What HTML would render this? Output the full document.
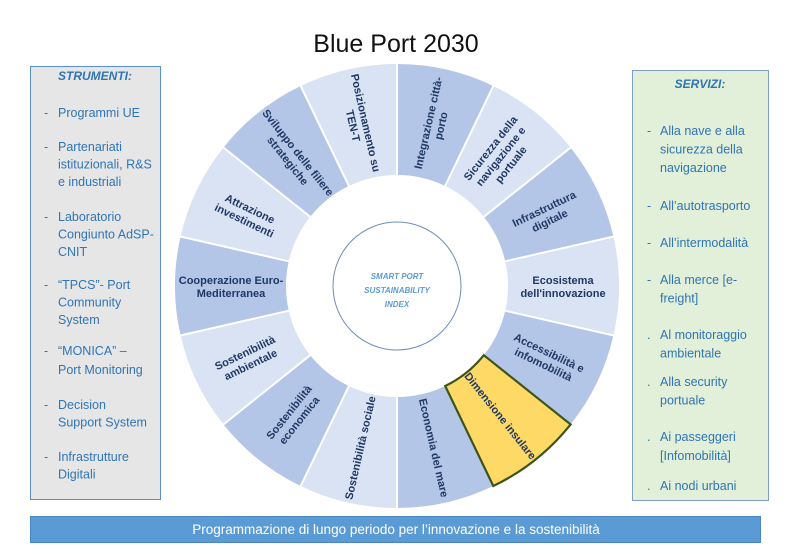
<!DOCTYPE html>
<html><head><meta charset="utf-8"><style>
html,body{margin:0;padding:0;background:#fff;width:790px;height:558px;overflow:hidden}
svg{display:block;font-family:"Liberation Sans",sans-serif}
.w{font-weight:bold;fill:#1f3864;font-size:11px}
.l{fill:#2e75b6;font-size:12.5px}
</style></head><body>
<svg width="790" height="558" viewBox="0 0 790 558">
<text x="396" y="52" font-size="25" text-anchor="middle" fill="#111">Blue Port 2030</text>

<rect x="30.5" y="66.5" width="130" height="433" fill="#e7e6e6" stroke="#5b8fcf"/>
<g class="l">
<text x="95" y="80" text-anchor="middle" font-weight="bold" font-style="italic" font-size="12">STRUMENTI:</text>
<text x="44" y="117">-</text><text x="58" y="117">Programmi UE</text>
<text x="44" y="151">-</text><text x="58" y="151">Partenariati</text><text x="58" y="168.5">istituzionali, R&amp;S</text><text x="58" y="186">e industriali</text>
<text x="44" y="221">-</text><text x="58" y="221">Laboratorio</text><text x="58" y="238.5">Congiunto AdSP-</text><text x="58" y="256">CNIT</text>
<text x="44" y="289">-</text><text x="58" y="289">“TPCS”- Port</text><text x="58" y="306.5">Community</text><text x="58" y="324">System</text>
<text x="44" y="355">-</text><text x="58" y="355">“MONICA” –</text><text x="58" y="374">Port Monitoring</text>
<text x="44" y="409">-</text><text x="58" y="409">Decision</text><text x="58" y="426.5">Support System</text>
<text x="44" y="461">-</text><text x="58" y="461">Infrastrutture</text><text x="58" y="478.5">Digitali</text>
</g>

<rect x="632.5" y="70.5" width="136" height="430" fill="#e2efd9" stroke="#7f9fcf"/>
<g class="l">
<text x="700" y="88" text-anchor="middle" font-weight="bold" font-style="italic" font-size="12">SERVIZI:</text>
<text x="647" y="135">-</text><text x="660" y="135">Alla nave e alla</text><text x="660" y="153.5">sicurezza della</text><text x="660" y="172">navigazione</text>
<text x="647" y="210">-</text><text x="660" y="210">All’autotrasporto</text>
<text x="647" y="247">-</text><text x="660" y="247">All’intermodalità</text>
<text x="647" y="284">-</text><text x="660" y="284">Alla merce [e-</text><text x="660" y="302.5">freight]</text>
<text x="647" y="339">.</text><text x="660" y="339">Al monitoraggio</text><text x="660" y="357.5">ambientale</text>
<text x="647" y="386">.</text><text x="660" y="386">Alla security</text><text x="660" y="404.5">portuale</text>
<text x="647" y="441">.</text><text x="660" y="441">Ai passeggeri</text><text x="660" y="460">[Infomobilità]</text>
<text x="647" y="490">.</text><text x="660" y="490">Ai nodi urbani</text>
</g>

<g fill="none" stroke-width="111" stroke-dasharray="74.73 1000">
<circle cx="397" cy="286" r="166.5" stroke="#b4c6e7" transform="rotate(-90 397 286)"/>
<circle cx="397" cy="286" r="166.5" stroke="#dae3f3" transform="rotate(-64.29 397 286)"/>
<circle cx="397" cy="286" r="166.5" stroke="#b4c6e7" transform="rotate(-38.57 397 286)"/>
<circle cx="397" cy="286" r="166.5" stroke="#dae3f3" transform="rotate(-12.86 397 286)"/>
<circle cx="397" cy="286" r="166.5" stroke="#b4c6e7" transform="rotate(12.86 397 286)"/>
<circle cx="397" cy="286" r="166.5" stroke="#b4c6e7" transform="rotate(64.29 397 286)"/>
<circle cx="397" cy="286" r="166.5" stroke="#dae3f3" transform="rotate(90 397 286)"/>
<circle cx="397" cy="286" r="166.5" stroke="#b4c6e7" transform="rotate(115.71 397 286)"/>
<circle cx="397" cy="286" r="166.5" stroke="#dae3f3" transform="rotate(141.43 397 286)"/>
<circle cx="397" cy="286" r="166.5" stroke="#b4c6e7" transform="rotate(167.14 397 286)"/>
<circle cx="397" cy="286" r="166.5" stroke="#dae3f3" transform="rotate(192.86 397 286)"/>
<circle cx="397" cy="286" r="166.5" stroke="#b4c6e7" transform="rotate(218.57 397 286)"/>
<circle cx="397" cy="286" r="166.5" stroke="#dae3f3" transform="rotate(244.29 397 286)"/>
</g>
<g stroke="#fff" stroke-width="2">
<line x1="397" y1="175" x2="397" y2="62" transform="rotate(0 397 286)"/>
<line x1="397" y1="175" x2="397" y2="62" transform="rotate(25.71 397 286)"/>
<line x1="397" y1="175" x2="397" y2="62" transform="rotate(51.43 397 286)"/>
<line x1="397" y1="175" x2="397" y2="62" transform="rotate(77.14 397 286)"/>
<line x1="397" y1="175" x2="397" y2="62" transform="rotate(102.86 397 286)"/>
<line x1="397" y1="175" x2="397" y2="62" transform="rotate(128.57 397 286)"/>
<line x1="397" y1="175" x2="397" y2="62" transform="rotate(154.29 397 286)"/>
<line x1="397" y1="175" x2="397" y2="62" transform="rotate(180 397 286)"/>
<line x1="397" y1="175" x2="397" y2="62" transform="rotate(205.71 397 286)"/>
<line x1="397" y1="175" x2="397" y2="62" transform="rotate(231.43 397 286)"/>
<line x1="397" y1="175" x2="397" y2="62" transform="rotate(257.14 397 286)"/>
<line x1="397" y1="175" x2="397" y2="62" transform="rotate(282.86 397 286)"/>
<line x1="397" y1="175" x2="397" y2="62" transform="rotate(308.57 397 286)"/>
<line x1="397" y1="175" x2="397" y2="62" transform="rotate(334.29 397 286)"/>
</g>
<path d="M483.8,355.2 L570.6,424.4 A222 222 0 0 1 493.3,486 L445.2,386 A111 111 0 0 0 483.8,355.2 Z" fill="#ffd966" stroke="#3d5418" stroke-width="2.2"/>

<circle cx="397" cy="286" r="64" fill="#fff" stroke="#6f8db5" stroke-width="1"/>
<g fill="#5b9bd5" font-size="8" font-weight="bold" font-style="italic" text-anchor="middle">
<text x="397" y="279">SMART PORT</text><text x="397" y="293">SUSTAINABILITY</text><text x="397" y="307">INDEX</text>
</g>

<g class="w" text-anchor="middle">
<text transform="rotate(12.86 397 286) translate(397 120) rotate(-90)"><tspan x="0" y="-2">Integrazione città-</tspan><tspan x="0" y="11">porto</tspan></text>
<text transform="rotate(38.57 397 286) translate(397 120) rotate(-90)"><tspan x="0" y="-9">Sicurezza della</tspan><tspan x="0" y="4">navigazione e</tspan><tspan x="0" y="17">portuale</tspan></text>
<text transform="rotate(64.29 397 286) translate(397 120) rotate(-90)"><tspan x="0" y="-2">Infrastruttura</tspan><tspan x="0" y="11">digitale</tspan></text>
<text transform="rotate(90 397 286) translate(397 120) rotate(-90)"><tspan x="0" y="-2">Ecosistema</tspan><tspan x="0" y="11">dell'innovazione</tspan></text>
<text transform="rotate(115.71 397 286) translate(397 120) rotate(-90)"><tspan x="0" y="-2">Accessibilità e</tspan><tspan x="0" y="11">infomobilità</tspan></text>
<text transform="rotate(141.43 397 286) translate(397 120) rotate(-90)"><tspan x="0" y="4">Dimensione insulare</tspan></text>
<text transform="rotate(167.14 397 286) translate(397 120) rotate(-90)"><tspan x="0" y="4">Economia del mare</tspan></text>
<text transform="rotate(192.86 397 286) translate(397 120) rotate(90)"><tspan x="0" y="4">Sostenibilità sociale</tspan></text>
<text transform="rotate(218.57 397 286) translate(397 120) rotate(90)"><tspan x="0" y="-2">Sostenibilità</tspan><tspan x="0" y="11">economica</tspan></text>
<text transform="rotate(244.29 397 286) translate(397 120) rotate(90)"><tspan x="0" y="-2">Sostenibilità</tspan><tspan x="0" y="11">ambientale</tspan></text>
<text transform="rotate(270 397 286) translate(397 120) rotate(90)"><tspan x="0" y="-2">Cooperazione Euro-</tspan><tspan x="0" y="11">Mediterranea</tspan></text>
<text transform="rotate(295.71 397 286) translate(397 120) rotate(90)"><tspan x="0" y="-2">Attrazione</tspan><tspan x="0" y="11">investimenti</tspan></text>
<text transform="rotate(321.43 397 286) translate(397 120) rotate(90)"><tspan x="0" y="-2">Sviluppo delle filiere</tspan><tspan x="0" y="11">strategiche</tspan></text>
<text transform="rotate(347.14 397 286) translate(397 120) rotate(90)"><tspan x="0" y="-2">Posizionamento su</tspan><tspan x="0" y="11">TEN-T</tspan></text>
</g>

<rect x="30.5" y="516.5" width="730" height="26" fill="#5b9bd5" stroke="#4a86c0"/>
<text x="396" y="534" text-anchor="middle" fill="#fff" font-size="13.5">Programmazione di lungo periodo per l’innovazione e la sostenibilità</text>
</svg>
</body></html>
